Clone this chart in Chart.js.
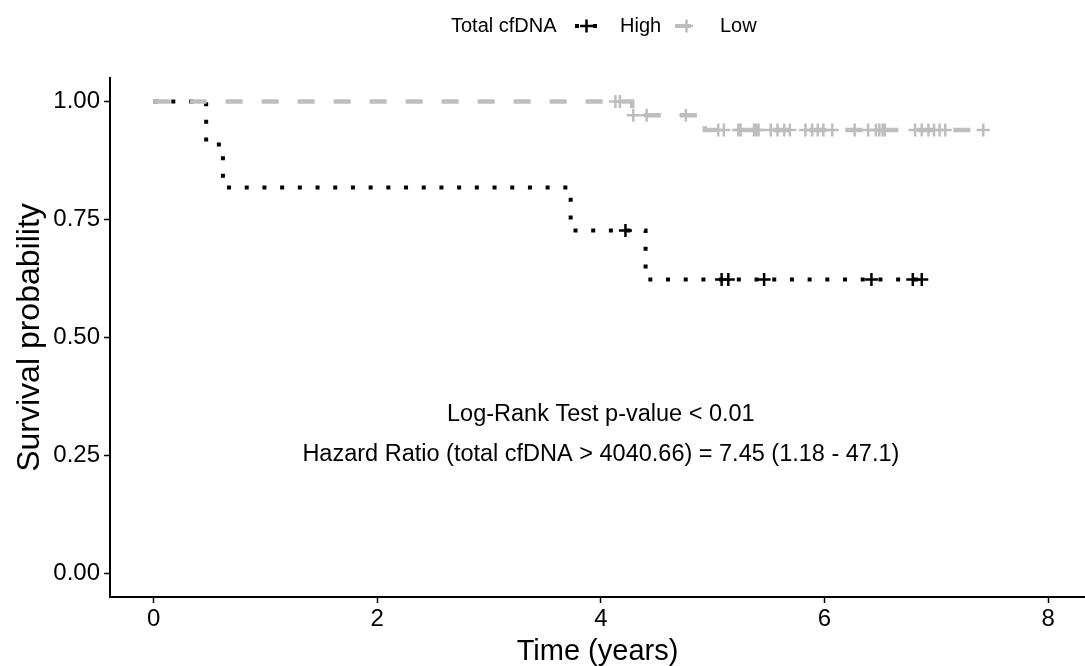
<!DOCTYPE html>
<html>
<head>
<meta charset="utf-8">
<script src="https://cdn.jsdelivr.net/npm/chart.js@4"></script>
<style>
  html, body { margin: 0; padding: 0; background: #ffffff; overflow: hidden; }
  #wrap { width: 1085px; height: 666px; position: relative; }
</style>
</head>
<body>
<div id="wrap"><canvas id="c"></canvas></div>
<script>
// ---- data ----
const xTicks = [0, 2, 4, 6, 8];
const yTicks = [0, 0.25, 0.5, 0.75, 1.0];

const highTimes = [0, 0.47, 0.62, 3.73, 4.40, 6.87];
const highSurv  = [1.0, 0.909, 0.818, 0.727, 0.623, 0.623];
const highCensor = [4.22, 5.08, 5.14, 5.46, 6.42, 6.79, 6.87];

const lowTimes = [0, 4.28, 4.93, 7.42];
const lowSurv  = [1.0, 0.971, 0.940, 0.940];
const lowCensor = [4.13, 4.17, 4.29, 4.41, 4.76, 5.05, 5.10, 5.23, 5.25, 5.37, 5.39, 5.41,
  5.52, 5.58, 5.64, 5.69, 5.83, 5.89, 5.94, 5.99, 6.07, 6.27, 6.39, 6.46, 6.49, 6.52,
  6.54, 6.81, 6.87, 6.93, 6.98, 7.03, 7.08, 7.42];

const legendTitle = 'Total cfDNA';
const groupNames = ['High', 'Low'];
const annotation = ['Log-Rank Test p-value < 0.01', 'Hazard Ratio (total cfDNA > 4040.66) = 7.45 (1.18 - 47.1)'];

const HIGH_COLOR = '#000000';
const LOW_COLOR = '#bebebe';
const FONT = '"Liberation Sans", Arial, Helvetica, sans-serif';

function stepValue(times, surv, t) {
  let v = surv[0];
  for (let i = 0; i < times.length; i++) { if (times[i] <= t) v = surv[i]; }
  return v;
}
const toPts = (xs, ys) => xs.map((x, i) => ({x: x, y: ys[i]}));
const censorPts = (cs, times, surv) => cs.map(t => ({x: t, y: stepValue(times, surv, t)}));

// custom legend + annotation plugin
const extras = {
  id: 'extras',
  afterDraw(chart) {
    const ctx = chart.ctx;
    const xs = chart.scales.x, ys = chart.scales.y;
    ctx.save();
    // annotation
    ctx.fillStyle = '#000';
    ctx.font = '23.5px ' + FONT;
    ctx.textAlign = 'center';
    ctx.textBaseline = 'middle';
    const ax = xs.getPixelForValue(4);
    ctx.fillText(annotation[0], ax, ys.getPixelForValue(0.337));
    ctx.fillText(annotation[1], ax, ys.getPixelForValue(0.253));
    // legend
    const ly = 26;
    ctx.font = '20px ' + FONT;
    ctx.textAlign = 'left';
    ctx.fillText(legendTitle, 451, ly);
    const keys = [
      {x0: 575, x1: 598, color: HIGH_COLOR, dash: [4, 14], text: groupNames[0], tx: 620},
      {x0: 675, x1: 698, color: LOW_COLOR, dash: [16, 20], text: groupNames[1], tx: 720}
    ];
    keys.forEach(k => {
      ctx.strokeStyle = k.color;
      ctx.lineWidth = 4;
      ctx.lineCap = 'butt';
      ctx.setLineDash(k.dash);
      ctx.beginPath(); ctx.moveTo(k.x0, ly); ctx.lineTo(k.x1, ly); ctx.stroke();
      ctx.setLineDash([]);
      ctx.lineWidth = 2.5;
      const cx = (k.x0 + k.x1) / 2;
      ctx.beginPath();
      ctx.moveTo(cx - 6.5, ly); ctx.lineTo(cx + 6.5, ly);
      ctx.moveTo(cx, ly - 6.5); ctx.lineTo(cx, ly + 6.5);
      ctx.stroke();
      ctx.fillStyle = '#000';
      ctx.fillText(k.text, k.tx, ly);
    });
    ctx.restore();
  }
};

new Chart(document.getElementById('c'), {
  type: 'scatter',
  data: {
    datasets: [
      {
        label: groupNames[1], data: toPts(lowTimes, lowSurv), showLine: true, stepped: 'before',
        borderColor: LOW_COLOR, borderWidth: 4.5, borderDash: [17, 19], borderCapStyle: 'butt',
        pointRadius: 0, order: 1
      },
      {
        label: groupNames[0], data: toPts(highTimes, highSurv), showLine: true, stepped: 'before',
        borderColor: HIGH_COLOR, borderWidth: 4, borderDash: [4, 13.7], borderCapStyle: 'butt',
        pointRadius: 0, order: 2
      },
      {
        label: groupNames[1] + ' censored', data: censorPts(lowCensor, lowTimes, lowSurv), showLine: false,
        pointStyle: 'cross', pointRadius: 6.5, pointBorderWidth: 2.5, borderColor: LOW_COLOR,
        backgroundColor: LOW_COLOR, pointHoverRadius: 6.5, order: 0
      },
      {
        label: groupNames[0] + ' censored', data: censorPts(highCensor, highTimes, highSurv), showLine: false,
        pointStyle: 'cross', pointRadius: 6.5, pointBorderWidth: 2.5, borderColor: HIGH_COLOR,
        backgroundColor: HIGH_COLOR, pointHoverRadius: 6.5, order: -1
      }
    ]
  },
  options: {
    responsive: true,
    maintainAspectRatio: false,
    animation: false,
    devicePixelRatio: 1,
    layout: { autoPadding: false, padding: { left: 0, right: 0, top: 78, bottom: 0 } },
    plugins: { legend: { display: false }, tooltip: { enabled: false } },
    scales: {
      x: {
        type: 'linear', min: -0.39, max: 8.33,
        afterBuildTicks: s => { s.ticks = xTicks.map(v => ({value: v})); },
        afterFit: s => { s.height = 69; s.paddingLeft = 0; s.paddingRight = 0; },
        grid: { drawOnChartArea: false, drawTicks: true, tickLength: 6, tickWidth: 1.5, tickColor: '#000' },
        border: { display: true, color: '#000', width: 2 },
        ticks: { color: '#000', font: { family: FONT, size: 24 }, padding: 2, maxRotation: 0 },
        title: { display: true, text: 'Time (years)', color: '#000', font: { family: FONT, size: 29, lineHeight: 1 }, padding: { top: 0, bottom: 0 } }
      },
      y: {
        type: 'linear', min: -0.05, max: 1.05,
        afterBuildTicks: s => { s.ticks = yTicks.map(v => ({value: v})); },
        afterFit: s => { s.width = 110; s.paddingTop = 0; s.paddingBottom = 0; },
        grid: { drawOnChartArea: false, drawTicks: true, tickLength: 6, tickWidth: 1.5, tickColor: '#000' },
        border: { display: true, color: '#000', width: 2 },
        ticks: { color: '#000', font: { family: FONT, size: 24 }, padding: 4, callback: v => Number(v).toFixed(2) },
        title: { display: true, text: 'Survival probability', color: '#000', font: { family: FONT, size: 32, lineHeight: 1 }, padding: { top: 14, bottom: 0 } }
      }
    }
  },
  plugins: [extras]
});
</script>
</body>
</html>
